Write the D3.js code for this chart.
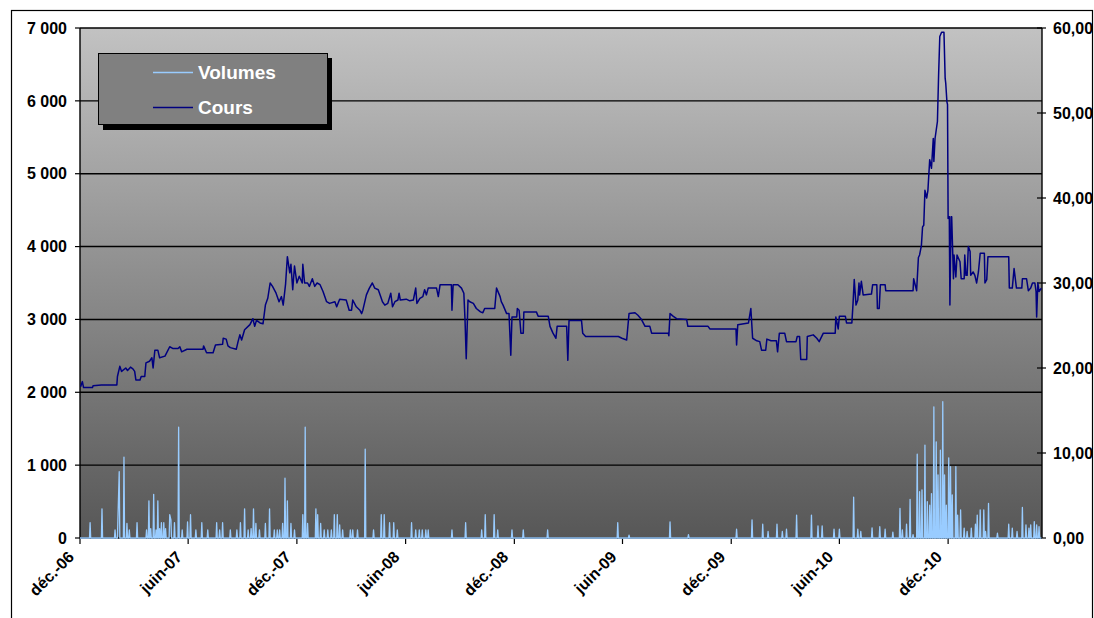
<!DOCTYPE html>
<html><head><meta charset="utf-8">
<script src="https://cdn.jsdelivr.net/npm/d3@7"></script>
<style>
body{margin:0;background:#fff}
svg{display:block}
text{font-family:"Liberation Sans",Arial,sans-serif;font-weight:bold}
</style>
</head><body>
<svg id="chart" width="1094" height="618"></svg>
<script>
// ---------- data ----------
const seriesNames = ["Volumes", "Cours"];
const xTickDates = ["2006-12-01","2007-06-01","2007-12-01","2008-06-01","2008-12-01","2009-06-01","2009-12-01","2010-06-01","2010-12-01"];
const xTickLabels = ["déc.-06","juin-07","déc.-07","juin-08","déc.-08","juin-09","déc.-09","juin-10","déc.-10"];
const volumeTicks = [0,1000,2000,3000,4000,5000,6000,7000];
const priceTicks = [0,10,20,30,40,50,60];

const priceData = [
["2006-12-02",17.8],["2006-12-05",18.4],["2006-12-07",17.7],["2006-12-22",17.7],["2006-12-23",17.9],["2007-01-06",18.0],["2007-02-01",18.0],["2007-02-02",19.0],["2007-02-06",20.2],["2007-02-09",19.6],["2007-02-16",20.0],["2007-02-19",19.7],["2007-02-24",20.1],["2007-02-28",19.9],["2007-03-03",19.6],["2007-03-05",18.6],["2007-03-12",18.6],["2007-03-14",19.0],["2007-03-20",19.0],["2007-03-22",20.6],["2007-03-28",20.8],["2007-04-01",21.2],["2007-04-03",20.0],["2007-04-06",22.1],["2007-04-11",22.1],["2007-04-14",21.2],["2007-04-23",21.4],["2007-04-26",21.8],["2007-05-01",22.5],["2007-05-06",22.3],["2007-05-15",22.3],["2007-05-18",22.5],["2007-05-21",21.9],["2007-05-30",22.2],["2007-06-26",22.2],["2007-06-27",22.6],["2007-07-02",21.8],["2007-07-13",21.8],["2007-07-17",22.7],["2007-07-29",22.8],["2007-07-30",23.5],["2007-08-04",23.4],["2007-08-07",22.6],["2007-08-11",22.4],["2007-08-21",22.2],["2007-08-24",23.1],["2007-08-27",23.9],["2007-08-30",23.3],["2007-09-04",24.5],["2007-09-13",25.1],["2007-09-18",25.8],["2007-09-21",24.9],["2007-09-24",25.6],["2007-09-30",25.3],["2007-10-05",25.2],["2007-10-09",27.4],["2007-10-13",28.2],["2007-10-17",30.0],["2007-10-21",29.6],["2007-10-27",28.8],["2007-11-01",27.8],["2007-11-05",28.4],["2007-11-08",27.4],["2007-11-12",29.9],["2007-11-15",33.1],["2007-11-19",31.2],["2007-11-21",32.2],["2007-11-24",29.2],["2007-11-27",32.0],["2007-12-01",30.0],["2007-12-05",30.8],["2007-12-10",30.0],["2007-12-11",32.2],["2007-12-14",30.0],["2007-12-19",30.0],["2007-12-22",29.6],["2007-12-27",30.5],["2007-12-31",29.6],
["2008-01-04",30.0],["2008-01-09",29.8],["2008-01-14",29.0],["2008-01-20",27.8],["2008-01-25",27.6],["2008-02-03",27.8],["2008-02-06",27.2],["2008-02-11",28.1],["2008-02-22",28.0],["2008-02-27",26.8],["2008-03-02",26.8],["2008-03-04",28.0],["2008-03-10",27.2],["2008-03-16",26.8],["2008-03-19",26.4],["2008-03-21",26.8],["2008-03-27",28.6],["2008-04-01",29.4],["2008-04-06",30.0],["2008-04-10",29.4],["2008-04-16",29.2],["2008-04-20",28.4],["2008-04-23",27.8],["2008-04-27",27.4],["2008-05-02",27.6],["2008-05-07",28.8],["2008-05-10",27.2],["2008-05-14",27.8],["2008-05-19",28.0],["2008-05-21",28.8],["2008-05-23",28.0],["2008-06-02",28.1],["2008-06-08",27.9],["2008-06-14",28.0],["2008-06-18",29.4],["2008-06-20",27.6],["2008-06-25",28.2],["2008-06-30",28.4],["2008-07-03",29.2],["2008-07-06",28.6],["2008-07-09",29.4],["2008-07-23",29.4],["2008-07-26",28.4],["2008-07-29",29.8],["2008-08-17",29.8],["2008-08-18",26.8],["2008-08-20",29.8],["2008-08-28",29.8],["2008-09-03",29.4],["2008-09-07",28.8],["2008-09-09",25.6],["2008-09-11",21.1],["2008-09-14",28.0],["2008-09-17",27.8],["2008-09-23",27.6],["2008-09-28",27.0],["2008-10-05",26.6],["2008-10-09",26.5],["2008-10-12",27.0],["2008-10-29",27.0],["2008-11-01",29.4],["2008-11-07",28.4],["2008-11-09",27.8],["2008-11-12",27.4],["2008-11-18",26.4],["2008-11-22",26.4],["2008-11-25",21.5],["2008-11-27",26.0],["2008-12-05",26.0],["2008-12-06",27.0],["2008-12-09",26.8],["2008-12-12",24.1],["2008-12-16",24.1],["2008-12-17",26.6],
["2009-01-07",26.6],["2009-01-10",26.1],["2009-01-27",26.1],["2009-01-30",24.9],["2009-02-04",24.1],["2009-02-09",23.5],["2009-02-11",24.9],["2009-02-27",24.9],["2009-03-01",20.9],["2009-03-03",25.6],["2009-03-24",25.6],["2009-03-26",24.1],["2009-03-31",23.7],["2009-05-25",23.7],["2009-05-31",23.5],["2009-06-08",23.3],["2009-06-12",26.4],["2009-06-22",26.5],["2009-06-27",26.2],["2009-07-03",25.7],["2009-07-09",24.9],["2009-07-17",24.9],["2009-07-20",24.1],["2009-08-17",24.1],["2009-08-18",23.8],["2009-08-20",26.4],["2009-08-25",26.1],["2009-08-31",25.8],["2009-09-17",25.7],["2009-09-19",24.9],["2009-10-23",24.9],["2009-10-26",24.6],["2009-12-09",24.6],["2009-12-10",22.7],["2009-12-12",25.1],["2009-12-30",25.3],
["2010-01-03",27.0],["2010-01-06",23.5],["2010-01-13",23.2],["2010-01-18",23.1],["2010-01-21",22.1],["2010-01-28",22.1],["2010-01-30",23.4],["2010-02-06",23.2],["2010-02-15",23.2],["2010-02-17",21.9],["2010-02-20",24.1],["2010-03-01",24.1],["2010-03-04",23.1],["2010-03-20",23.1],["2010-03-22",23.7],["2010-03-26",23.7],["2010-03-28",21.0],["2010-04-07",21.0],["2010-04-08",23.7],["2010-04-18",23.9],["2010-04-24",23.5],["2010-04-28",23.1],["2010-05-05",24.1],["2010-05-25",24.1],["2010-05-26",26.0],["2010-05-30",24.6],["2010-06-01",26.1],["2010-06-11",26.1],["2010-06-13",25.3],["2010-06-22",25.3],["2010-06-24",27.6],["2010-06-26",30.4],["2010-06-29",27.4],["2010-07-02",28.0],["2010-07-04",30.0],["2010-07-05",28.6],["2010-07-08",30.2],["2010-07-11",28.6],["2010-07-25",28.7],["2010-07-27",29.8],["2010-08-03",29.8],["2010-08-04",27.0],["2010-08-07",27.0],["2010-08-09",29.8],["2010-08-17",29.8],["2010-08-18",29.1],["2010-10-03",29.1],["2010-10-04",30.5],["2010-10-09",29.1],["2010-10-12",33.0],["2010-10-14",33.3],["2010-10-17",34.4],["2010-10-19",36.6],["2010-10-21",36.8],["2010-10-23",40.9],["2010-10-26",40.0],["2010-10-28",40.9],["2010-10-31",44.5],["2010-11-03",43.5],["2010-11-06",47.0],["2010-11-07",44.3],["2010-11-09",47.0],["2010-11-13",49.0],["2010-11-15",54.5],["2010-11-17",59.0],["2010-11-20",59.5],["2010-11-24",59.5],["2010-11-26",54.1],["2010-11-27",53.5],["2010-11-29",51.3],["2010-11-30",51.0],["2010-12-01",37.6],["2010-12-03",37.8],["2010-12-04",27.4],["2010-12-06",37.8],["2010-12-07",37.8],["2010-12-10",30.5],["2010-12-11",33.3],["2010-12-14",30.7],["2010-12-16",33.3],["2010-12-21",32.5],["2010-12-23",30.5],["2010-12-28",30.5],["2010-12-29",33.3],["2010-12-31",30.9],
["2011-01-02",30.9],["2011-01-04",34.3],["2011-01-07",33.7],["2011-01-08",30.9],["2011-01-12",31.3],["2011-01-15",30.9],["2011-01-18",30.0],["2011-01-21",31.3],["2011-01-24",33.5],["2011-01-31",33.5],["2011-02-01",30.0],["2011-02-04",30.4],["2011-02-06",33.1],["2011-03-13",33.1],["2011-03-14",29.4],["2011-03-19",29.4],["2011-03-22",31.7],["2011-03-26",29.4],["2011-04-04",29.4],["2011-04-05",30.5],["2011-04-12",30.5],["2011-04-15",29.1],["2011-04-19",29.4],["2011-04-22",30.0],["2011-04-26",30.0],["2011-04-28",29.0],["2011-04-29",26.0],["2011-05-01",30.0],["2011-05-03",29.0],["2011-05-07",29.4]
];

// daily volumes on trading days with exchanges (other days: no volume)
const volumeData = [
["2006-12-18",210],["2007-01-07",400],["2007-01-29",110],["2007-02-03",320],["2007-02-05",910],["2007-02-13",1110],["2007-02-18",200],["2007-02-22",110],["2007-03-07",210],["2007-03-23",110],["2007-03-27",510],["2007-03-30",130],["2007-04-04",600],["2007-04-08",110],["2007-04-11",510],["2007-04-14",130],["2007-04-17",210],["2007-04-21",210],["2007-04-24",130],["2007-05-01",320],["2007-05-03",250],["2007-05-09",210],["2007-05-16",1520],["2007-05-22",110],["2007-05-31",220],["2007-06-05",320],["2007-06-14",110],["2007-06-24",210],["2007-07-04",110],["2007-07-19",210],["2007-07-24",110],["2007-07-29",210],["2007-08-11",110],["2007-08-22",110],["2007-08-28",210],["2007-09-04",400],["2007-09-10",110],["2007-09-15",130],["2007-09-19",400],["2007-09-23",200],["2007-09-29",110],["2007-10-09",200],["2007-10-16",400],["2007-10-24",110],["2007-10-29",110],["2007-11-02",110],["2007-11-07",200],["2007-11-11",820],["2007-11-15",510],["2007-11-21",200],["2007-11-27",110],["2007-12-11",320],["2007-12-15",1520],["2007-12-19",200],
["2008-01-02",400],["2008-01-05",320],["2008-01-10",200],["2008-01-16",110],["2008-01-22",110],["2008-01-28",110],["2008-02-02",320],["2008-02-07",320],["2008-02-11",180],["2008-02-16",110],["2008-02-29",110],["2008-03-04",110],["2008-03-12",110],["2008-03-25",1220],["2008-04-08",110],["2008-04-21",320],["2008-04-26",320],["2008-05-05",210],["2008-05-12",210],["2008-05-18",110],["2008-06-11",210],["2008-06-18",110],["2008-06-24",110],["2008-06-29",110],["2008-07-05",110],["2008-07-09",110],["2008-08-18",110],["2008-09-10",210],["2008-10-07",110],["2008-10-13",320],["2008-10-28",320],["2008-11-03",110],["2008-11-27",110],["2008-12-16",110],
["2009-01-26",110],["2009-05-24",210],["2009-06-12",40],["2009-08-20",220],["2009-09-20",45],["2009-12-10",120],
["2010-01-05",250],["2010-01-23",190],["2010-02-01",90],["2010-02-16",190],["2010-02-25",90],["2010-03-04",120],["2010-03-21",315],["2010-04-15",315],["2010-04-26",165],["2010-05-03",165],["2010-05-23",120],["2010-06-01",120],["2010-06-25",560],["2010-07-02",120],["2010-07-07",90],["2010-07-26",140],["2010-08-08",155],["2010-08-17",120],["2010-08-30",80],["2010-09-11",405],["2010-09-15",110],["2010-09-22",190],["2010-09-28",530],["2010-10-03",45],["2010-10-10",1150],["2010-10-14",635],["2010-10-18",660],["2010-10-23",1275],["2010-10-27",500],["2010-10-31",450],["2010-11-03",610],["2010-11-07",1800],["2010-11-11",1320],["2010-11-14",865],["2010-11-18",1205],["2010-11-22",1870],["2010-11-25",865],["2010-11-28",450],["2010-12-02",1100],["2010-12-05",980],["2010-12-08",590],["2010-12-14",980],["2010-12-17",315],["2010-12-22",385],["2010-12-28",135],
["2011-01-02",90],["2011-01-09",135],["2011-01-16",190],["2011-01-19",315],["2011-01-24",385],["2011-01-30",385],["2011-02-02",90],["2011-02-07",475],["2011-02-22",65],["2011-03-13",190],["2011-03-19",135],["2011-03-27",90],["2011-04-05",420],["2011-04-11",180],["2011-04-16",135],["2011-04-19",180],["2011-04-25",225],["2011-04-29",180],["2011-05-03",155]
];

// ---------- chart ----------
const parse = d3.timeParse("%Y-%m-%d");
const fr = d3.formatLocale({decimal: ",", thousands: " ", grouping: [3], currency: ["", " €"]});
const fmtV = fr.format(",.0f");
const fmtP = fr.format(".2f");

const L = 80, R = 1042, T = 28, B = 538;
const x = d3.scaleTime().domain([parse("2006-12-01"), parse("2011-05-08")]).range([L, R]);
const yV = d3.scaleLinear().domain([0, 7000]).range([B, T]);
const yP = d3.scaleLinear().domain([0, 60]).range([B, T]);

const svg = d3.select("#chart");
svg.append("rect").attr("width", 1094).attr("height", 618).attr("fill", "#fff");
// outer frame
svg.append("rect").attr("x", 11.5).attr("y", 10.5).attr("width", 1081).attr("height", 700)
  .attr("fill", "none").attr("stroke", "#000").attr("stroke-width", 1.2);

const defs = svg.append("defs");
const grad = defs.append("linearGradient").attr("id", "bg").attr("x1", 0).attr("y1", 0).attr("x2", 0).attr("y2", 1);
grad.append("stop").attr("offset", "0%").attr("stop-color", "#c2c2c2");
grad.append("stop").attr("offset", "100%").attr("stop-color", "#575757");

svg.append("rect").attr("x", L).attr("y", T).attr("width", R - L).attr("height", B - T).attr("fill", "url(#bg)");

// gridlines
svg.append("g").selectAll("line").data(volumeTicks.filter(d => d > 0)).join("line")
  .attr("x1", L).attr("x2", R).attr("y1", d => yV(d)).attr("y2", d => yV(d))
  .attr("stroke", "#000").attr("stroke-width", 1.4);

// left axis
const gl = svg.append("g");
gl.append("line").attr("x1", L).attr("x2", L).attr("y1", T).attr("y2", B).attr("stroke", "#000").attr("stroke-width", 1.4);
gl.selectAll("line.t").data(volumeTicks).join("line").attr("class", "t")
  .attr("x1", L - 5).attr("x2", L).attr("y1", d => yV(d)).attr("y2", d => yV(d)).attr("stroke", "#000").attr("stroke-width", 1.2);
gl.selectAll("text").data(volumeTicks).join("text")
  .attr("x", L - 13).attr("y", d => yV(d)).attr("dy", "0.36em").attr("text-anchor", "end")
  .attr("font-size", 16).text(d => fmtV(d));

// right axis
const gr = svg.append("g");
gr.append("line").attr("x1", R).attr("x2", R).attr("y1", T).attr("y2", B).attr("stroke", "#000").attr("stroke-width", 1.4);
gr.selectAll("line.t").data(priceTicks).join("line").attr("class", "t")
  .attr("x1", R - 5).attr("x2", R + 4).attr("y1", d => yP(d)).attr("y2", d => yP(d)).attr("stroke", "#000").attr("stroke-width", 1.2);
gr.selectAll("text").data(priceTicks).join("text")
  .attr("x", R + 11).attr("y", d => yP(d)).attr("dy", "0.36em").attr("text-anchor", "start")
  .attr("font-size", 16).text(d => fmtP(d));

// bottom axis
const gb = svg.append("g");
gb.append("line").attr("x1", L).attr("x2", R).attr("y1", B).attr("y2", B).attr("stroke", "#000").attr("stroke-width", 1.4);
const xt = xTickDates.map((d, i) => ({date: parse(d), label: xTickLabels[i]}));
gb.selectAll("line.t").data(xt).join("line").attr("class", "t")
  .attr("x1", d => x(d.date)).attr("x2", d => x(d.date)).attr("y1", B).attr("y2", B + 6).attr("stroke", "#000").attr("stroke-width", 1.2);
gb.selectAll("text").data(xt).join("text")
  .attr("text-anchor", "end").attr("font-size", 16)
  .attr("transform", d => `translate(${x(d.date) - 5},${B + 20}) rotate(-45)`)
  .text(d => d.label);

// price line
const pts = priceData.map(d => ({date: parse(d[0]), v: d[1]}));
svg.append("path").datum(pts)
  .attr("fill", "none").attr("stroke", "#000080").attr("stroke-width", 1.5).attr("stroke-linejoin", "round")
  .attr("d", d3.line().x(d => x(d.date)).y(d => yP(d.v)));

// volume line (zero on days without exchanges)
const vs = volumeData.map(d => ({date: parse(d[0]), v: d[1]})).sort((a, b) => a.date - b.date);
const twoDays = 2 * 864e5 + 1;
const vPts = [{date: x.domain()[0], v: 0}];
vs.forEach((d, i) => {
  const prev = vs[i - 1], next = vs[i + 1];
  if (!prev || d.date - prev.date > twoDays) vPts.push({date: d3.timeDay.offset(d.date, -1), v: 0});
  vPts.push(d);
  if (!next || next.date - d.date > twoDays) vPts.push({date: d3.timeDay.offset(d.date, 1), v: 0});
});
vPts.push({date: pts[pts.length - 1].date, v: 0});
svg.append("path").datum(vPts)
  .attr("fill", "none").attr("stroke", "#99ccff").attr("stroke-width", 1.3).attr("stroke-linejoin", "round")
  .attr("d", d3.line().x(d => x(d.date)).y(d => yV(d.v)));

// legend
const lg = svg.append("g");
lg.append("rect").attr("x", 103).attr("y", 58).attr("width", 229).attr("height", 72).attr("fill", "#000");
lg.append("rect").attr("x", 98.5).attr("y", 53.5).attr("width", 229).attr("height", 71).attr("fill", "#808080").attr("stroke", "#000").attr("stroke-width", 1);
const legColors = ["#99ccff", "#000080"];
seriesNames.forEach((n, i) => {
  const yy = 72.5 + i * 35;
  lg.append("line").attr("x1", 153).attr("x2", 193).attr("y1", yy).attr("y2", yy).attr("stroke", legColors[i]).attr("stroke-width", 1.6);
  lg.append("text").attr("x", 198).attr("y", yy).attr("dy", "0.36em").attr("fill", "#fff").attr("font-size", 19).text(n);
});
</script>
</body></html>
